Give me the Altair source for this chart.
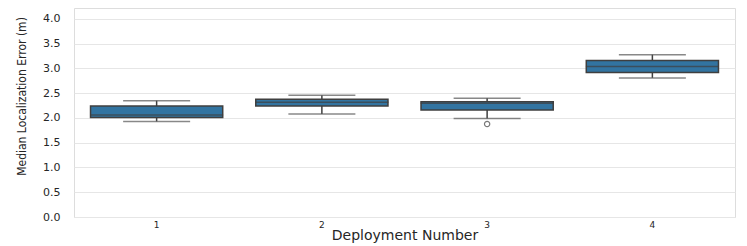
import altair as alt
import pandas as pd

deployment = ["1", "2", "3", "4"]
whisker_low = [1.93, 2.08, 1.99, 2.81]
q1 = [2.01, 2.24, 2.16, 2.92]
median = [2.06, 2.32, 2.30, 3.04]
q3 = [2.24, 2.38, 2.33, 3.16]
whisker_high = [2.35, 2.46, 2.40, 3.28]
outlier_dep = ["3"]
outlier_val = [1.88]
y_ticks = [0.0, 0.5, 1.0, 1.5, 2.0, 2.5, 3.0, 3.5, 4.0]

df = pd.DataFrame({
    "dep": deployment, "lo": whisker_low, "q1": q1, "med": median,
    "q3": q3, "hi": whisker_high,
})
out = pd.DataFrame({"dep": outlier_dep, "val": outlier_val})

BOX = "#3274a1"
EDGE = "#3f3f3f"

x = alt.X("dep:N", sort=deployment,
          scale=alt.Scale(paddingInner=0, paddingOuter=0),
          axis=alt.Axis(title="Deployment Number", labelAngle=0, ticks=False,
                        domain=False, labelPadding=3, labelFontSize=9,
                        titleFontSize=14, titlePadding=-1, labelColor="#262626",
                        titleColor="#262626", titleFontWeight="normal",
                        labelFont="DejaVu Sans", titleFont="DejaVu Sans"))
yscale = alt.Scale(domain=[0, 4.222], nice=False, zero=True)
yaxis = alt.Axis(title="Median Localization Error (m)", values=y_ticks, format=".1f",
                 ticks=False, domain=False, labelPadding=14, labelFontSize=11,
                 labelFont="DejaVu Sans", labelColor="#262626",
                 titleFont="'DejaVu Sans Condensed', 'Liberation Sans', sans-serif",
                 titleFontSize=12,
                 titleFontWeight="normal", titleColor="#262626",
                 titleX=-53, titleY=88, titleAngle=270, titleAlign="center",
                 titleBaseline="middle",
                 gridColor="#e6e6e6", gridWidth=1.2)

base = alt.Chart(df)

whisk = base.mark_rule(color=EDGE, strokeWidth=1.5).encode(
    x=x, y=alt.Y("lo:Q", scale=yscale, axis=yaxis), y2="hi:Q")
box = base.mark_bar(color=BOX, stroke=EDGE, strokeWidth=1.5,
                    width=alt.RelativeBandSize(0.8)).encode(
    x=x, y=alt.Y("q1:Q", scale=yscale, axis=yaxis), y2="q3:Q")
med = base.mark_tick(color=EDGE, thickness=1.5, size=133).encode(
    x=x, y=alt.Y("med:Q", scale=yscale, axis=yaxis))
caplo = base.mark_tick(color="#555555", thickness=1.5, size=67).encode(
    x=x, y=alt.Y("lo:Q", scale=yscale, axis=yaxis))
caphi = base.mark_tick(color="#555555", thickness=1.5, size=67).encode(
    x=x, y=alt.Y("hi:Q", scale=yscale, axis=yaxis))
pts = alt.Chart(out).mark_point(shape="circle", size=28, color=EDGE, strokeWidth=1.2,
                                filled=False).encode(
    x=x, y=alt.Y("val:Q", scale=yscale, axis=yaxis))

chart = alt.layer(whisk, box, med, caplo, caphi, pts).properties(
    width=661, height=209,
    autosize=alt.AutoSizeParams(type="none"),
    padding={"left": 66, "top": 0, "right": 4, "bottom": 29},
).configure_view(stroke="#d0d0d0", strokeWidth=1.2).configure(background="white")

chart.save("out.html", embed_options={"renderer": "svg", "actions": False})
